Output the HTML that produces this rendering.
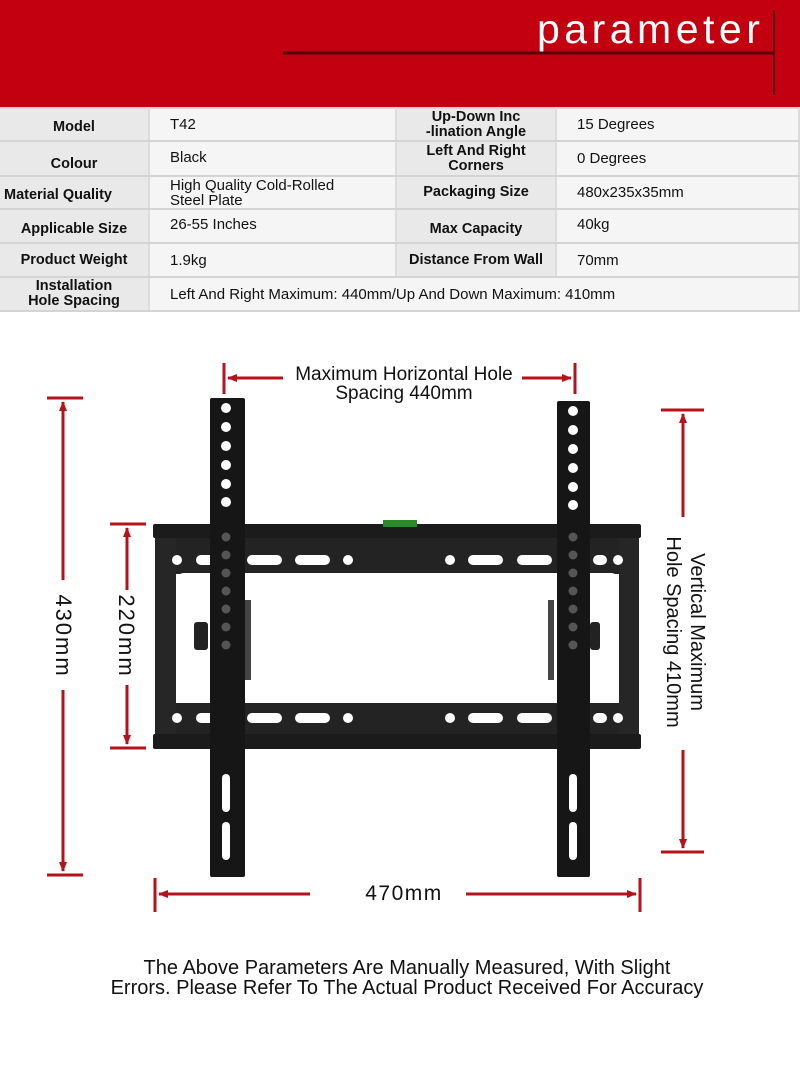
<!DOCTYPE html>
<html><head><meta charset="utf-8"><style>
body{margin:0;background:#fff;width:800px;height:1091px;overflow:hidden;font-family:"Liberation Sans",Arial,sans-serif;}
.hdr{position:absolute;left:0;top:0;width:800px;height:107px;background:#c30010;}
table{position:absolute;left:0;top:107px;width:800px;border-collapse:collapse;font-size:15px;color:#111;}
td{border:2px solid #d4d4d4;border-left:none;border-right:2px solid #dcdcdc;padding:0;line-height:15px;}
td.l{background:#e9e9e9;font-weight:bold;text-align:center;font-size:14.5px;}
td.v{background:#f5f5f5;padding-left:20px;}
</style></head><body>
<div class="hdr"></div>
<svg style="position:absolute;left:0;top:0" width="800" height="107">
<text x="537" y="43" fill="#fff" font-family="Liberation Sans, sans-serif" font-size="41" letter-spacing="4.5">parameter</text>
<line x1="283" y1="53" x2="774" y2="53" stroke="#5a0008" stroke-width="3"/>
<line x1="774" y1="10" x2="774" y2="95" stroke="#5a0008" stroke-width="2"/>
</svg>
<table>
<tr style="height:33px"><td class="l" style="width:148px;padding-top:6px">Model</td><td class="v" style="width:225px">T42</td><td class="l" style="width:158px">Up-Down Inc<br>-lination Angle</td><td class="v">15 Degrees</td></tr>
<tr style="height:35px"><td class="l" style="padding-top:12px">Colour</td><td class="v" style="vertical-align:top;padding-top:8px">Black</td><td class="l">Left And Right<br>Corners</td><td class="v">0 Degrees</td></tr>
<tr style="height:33px"><td class="l" style="text-align:left;padding-left:4px;padding-top:6px">Material Quality</td><td class="v">High Quality Cold-Rolled<br>Steel Plate</td><td class="l">Packaging Size</td><td class="v">480x235x35mm</td></tr>
<tr style="height:34px"><td class="l" style="padding-top:6px">Applicable Size</td><td class="v" style="vertical-align:top;padding-top:7px">26-55 Inches</td><td class="l" style="padding-top:6px">Max Capacity</td><td class="v" style="vertical-align:top;padding-top:7px">40kg</td></tr>
<tr style="height:34px"><td class="l">Product Weight</td><td class="v">1.9kg</td><td class="l">Distance From Wall</td><td class="v">70mm</td></tr>
<tr style="height:34px"><td class="l">Installation<br>Hole Spacing</td><td class="v" colspan="3">Left And Right Maximum: 440mm/Up And Down Maximum: 410mm</td></tr>
</table>
<svg style="position:absolute;left:0;top:0" width="800" height="1091">
<defs><marker id="a" markerWidth="10" markerHeight="8" refX="9" refY="4" orient="auto" markerUnits="userSpaceOnUse"><path d="M0,0 L10,4 L0,8 Z" fill="#b5121b"/></marker></defs>
<rect x="153" y="524" width="488" height="14" rx="2" fill="#1b1b1b"/>
<rect x="153" y="734" width="488" height="15" rx="2" fill="#1b1b1b"/>
<rect x="155" y="538" width="484" height="36" fill="#232323"/>
<rect x="155" y="703" width="484" height="31" fill="#232323"/>
<rect x="155" y="538" width="21" height="196" fill="#262626"/>
<rect x="619" y="538" width="20" height="196" fill="#262626"/>
<rect x="176" y="573" width="443" height="130" rx="8" fill="#fff"/>
<rect x="383" y="520" width="34" height="7" fill="#2a8a2a"/>
<g fill="#fff">
<circle cx="177" cy="560" r="5"/><rect x="196" y="555" width="20" height="10" rx="5"/><rect x="247" y="555" width="35" height="10" rx="5"/><rect x="295" y="555" width="35" height="10" rx="5"/><circle cx="348" cy="560" r="5"/>
<circle cx="450" cy="560" r="5"/><rect x="468" y="555" width="35" height="10" rx="5"/><rect x="517" y="555" width="35" height="10" rx="5"/><rect x="593" y="555" width="14" height="10" rx="5"/><circle cx="618" cy="560" r="5"/>
<circle cx="177" cy="718" r="5"/><rect x="196" y="713" width="20" height="10" rx="5"/><rect x="247" y="713" width="35" height="10" rx="5"/><rect x="295" y="713" width="35" height="10" rx="5"/><circle cx="348" cy="718" r="5"/>
<circle cx="450" cy="718" r="5"/><rect x="468" y="713" width="35" height="10" rx="5"/><rect x="517" y="713" width="35" height="10" rx="5"/><rect x="593" y="713" width="14" height="10" rx="5"/><circle cx="618" cy="718" r="5"/>
</g>
<rect x="245" y="600" width="6" height="80" fill="#444"/><rect x="548" y="600" width="6" height="80" fill="#444"/>
<rect x="194" y="622" width="14" height="28" rx="3" fill="#222"/><rect x="590" y="622" width="10" height="28" rx="3" fill="#222"/>
<rect x="210" y="398" width="35" height="479" rx="2" fill="#161616"/>
<rect x="557" y="401" width="33" height="476" rx="2" fill="#161616"/>
<g fill="#fff">
<circle cx="226" cy="408" r="5"/><circle cx="226" cy="427" r="5"/><circle cx="226" cy="446" r="5"/><circle cx="226" cy="465" r="5"/><circle cx="226" cy="484" r="5"/><circle cx="226" cy="502" r="5"/>
<rect x="222" y="774" width="8" height="38" rx="4"/><rect x="222" y="822" width="8" height="38" rx="4"/>
<circle cx="573" cy="411" r="5"/><circle cx="573" cy="430" r="5"/><circle cx="573" cy="449" r="5"/><circle cx="573" cy="468" r="5"/><circle cx="573" cy="487" r="5"/><circle cx="573" cy="505" r="5"/>
<rect x="569" y="774" width="8" height="38" rx="4"/><rect x="569" y="822" width="8" height="38" rx="4"/>
</g>
<g fill="#555">
<circle cx="226" cy="537" r="4.5"/><circle cx="226" cy="555" r="4.5"/><circle cx="226" cy="573" r="4.5"/><circle cx="226" cy="591" r="4.5"/><circle cx="226" cy="609" r="4.5"/><circle cx="226" cy="627" r="4.5"/><circle cx="226" cy="645" r="4.5"/>
<circle cx="573" cy="537" r="4.5"/><circle cx="573" cy="555" r="4.5"/><circle cx="573" cy="573" r="4.5"/><circle cx="573" cy="591" r="4.5"/><circle cx="573" cy="609" r="4.5"/><circle cx="573" cy="627" r="4.5"/><circle cx="573" cy="645" r="4.5"/>
</g>
<g stroke="#b5121b" stroke-width="3" fill="none">
<line x1="224" y1="363" x2="224" y2="394"/><line x1="575" y1="363" x2="575" y2="394"/>
<line x1="283" y1="378" x2="228" y2="378" marker-end="url(#a)"/><line x1="522" y1="378" x2="571" y2="378" marker-end="url(#a)"/>
<line x1="47" y1="398" x2="83" y2="398"/><line x1="47" y1="875" x2="83" y2="875"/>
<line x1="63" y1="580" x2="63" y2="402" marker-end="url(#a)"/><line x1="63" y1="690" x2="63" y2="871" marker-end="url(#a)"/>
<line x1="110" y1="524" x2="146" y2="524"/><line x1="110" y1="748" x2="146" y2="748"/>
<line x1="127" y1="590" x2="127" y2="528" marker-end="url(#a)"/><line x1="127" y1="685" x2="127" y2="744" marker-end="url(#a)"/>
<line x1="661" y1="410" x2="704" y2="410"/><line x1="661" y1="852" x2="704" y2="852"/>
<line x1="683" y1="517" x2="683" y2="414" marker-end="url(#a)"/><line x1="683" y1="750" x2="683" y2="848" marker-end="url(#a)"/>
<line x1="155" y1="878" x2="155" y2="912"/><line x1="640" y1="878" x2="640" y2="912"/>
<line x1="310" y1="894" x2="159" y2="894" marker-end="url(#a)"/><line x1="466" y1="894" x2="636" y2="894" marker-end="url(#a)"/>
</g>
<g font-family="Liberation Sans, sans-serif" fill="#111" text-anchor="middle">
<text x="404" y="380" font-size="19">Maximum Horizontal Hole</text>
<text x="404" y="399" font-size="19">Spacing 440mm</text>
<text x="404" y="900" font-size="21" letter-spacing="1.5">470mm</text>
<text transform="translate(56,636) rotate(90)" font-size="22" letter-spacing="2">430mm</text>
<text transform="translate(119,636) rotate(90)" font-size="22" letter-spacing="2">220mm</text>
<text transform="translate(691,632) rotate(90)" font-size="20">Vertical Maximum</text>
<text transform="translate(667,632) rotate(90)" font-size="20">Hole Spacing 410mm</text>
<text x="407" y="974" font-size="20">The Above Parameters Are Manually Measured, With Slight</text>
<text x="407" y="994" font-size="20">Errors. Please Refer To The Actual Product Received For Accuracy</text>
</g>
</svg>
</body></html>
